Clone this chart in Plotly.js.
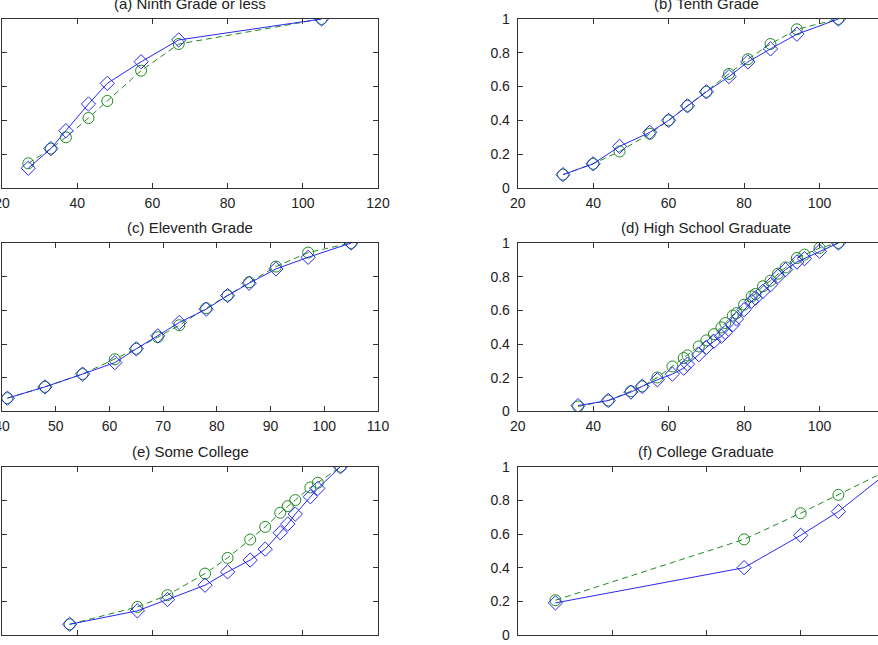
<!DOCTYPE html>
<html>
<head>
<meta charset="utf-8">
<script src="https://cdn.plot.ly/plotly-3.0.1.min.js"></script>
<style>
  html, body { margin: 0; padding: 0; width: 878px; height: 645px; overflow: hidden; background: #fff; }
  #fig { position: absolute; left: -60px; top: -20px; width: 1000px; height: 700px; }
</style>
</head>
<body>
<div id="fig"></div>
<script>
// Panel titles
const panelTitles = ['(a) Ninth Grade or less', '(b) Tenth Grade', '(c) Eleventh Grade',
                     '(d) High School Graduate', '(e) Some College', '(f) College Graduate'];

// (a) Ninth grade or less
const ninthX     = [27, 33, 37, 43, 48, 57, 67, 105];
const ninthBlue  = [0.117, 0.233, 0.339, 0.497, 0.619, 0.747, 0.876, 1.0];
const ninthGreen = [0.146, 0.233, 0.300, 0.414, 0.515, 0.694, 0.852, 1.0];

// (b) Tenth grade
const tenthX     = [32, 40, 47, 55, 60, 65, 70, 76, 81, 87, 94, 105];
const tenthBlue  = [0.079, 0.143, 0.246, 0.329, 0.400, 0.486, 0.569, 0.659, 0.746, 0.823, 0.910, 1.0];
const tenthGreen = [0.079, 0.143, 0.216, 0.321, 0.400, 0.486, 0.569, 0.675, 0.762, 0.852, 0.939, 1.0];

// (c) Eleventh grade
const eleventhX     = [41, 48, 55, 61, 65, 69, 73, 78, 82, 86, 91, 97, 105];
const eleventhBlue  = [0.079, 0.146, 0.222, 0.290, 0.372, 0.449, 0.528, 0.607, 0.688, 0.761, 0.846, 0.915, 1.0];
const eleventhGreen = [0.079, 0.146, 0.222, 0.310, 0.372, 0.441, 0.512, 0.613, 0.688, 0.767, 0.860, 0.943, 1.0];

// (d) High school graduate
const hsX     = [36, 44, 50, 53, 57, 61, 64, 65, 68, 70, 72, 74, 75, 77, 78, 80, 82, 83, 85, 87, 89, 91, 94, 96, 100, 105];
const hsBlue  = [0.035, 0.065, 0.115, 0.149, 0.188, 0.222, 0.257, 0.281, 0.337, 0.380, 0.416, 0.446, 0.469,
                 0.515, 0.549, 0.604, 0.654, 0.673, 0.713, 0.752, 0.802, 0.842, 0.887, 0.907, 0.951, 1.0];
const hsGreen = [0.030, 0.065, 0.120, 0.149, 0.202, 0.267, 0.317, 0.333, 0.386, 0.422, 0.459, 0.499, 0.525,
                 0.569, 0.584, 0.634, 0.683, 0.697, 0.743, 0.776, 0.818, 0.855, 0.911, 0.931, 0.970, 1.0];

// (e) Some college
const someX     = [69, 78, 82, 87, 90, 93, 95, 97, 98, 99, 101, 102, 105];
const someBlue  = [0.065, 0.145, 0.212, 0.297, 0.376, 0.446, 0.511, 0.608, 0.660, 0.719, 0.822, 0.871, 1.0];
const someGreen = [0.065, 0.168, 0.238, 0.366, 0.459, 0.568, 0.643, 0.727, 0.766, 0.802, 0.877, 0.905, 1.0];

// (f) College graduate
const collegeX     = [87, 97, 100, 102, 105];
const collegeBlue  = [0.192, 0.401, 0.593, 0.734, 1.0];
const collegeGreen = [0.208, 0.569, 0.724, 0.833, 1.0];

// x-axis ranges and tick steps per panel
const xRanges = [[20, 120], [20, 120], [40, 110], [20, 120], [60, 110], [85, 105]];
const xSteps  = [20, 20, 10, 20, 10, 5];

const panels = [
  [ninthX, ninthBlue, ninthGreen],
  [tenthX, tenthBlue, tenthGreen],
  [eleventhX, eleventhBlue, eleventhGreen],
  [hsX, hsBlue, hsGreen],
  [someX, someBlue, someGreen],
  [collegeX, collegeBlue, collegeGreen]
];

const BLUE = 'rgb(40,40,240)';
const GREEN = 'rgb(30,140,30)';
const AXIS = '#333333';
const FONT = 'Liberation Sans, Arial, sans-serif';

// Grid geometry (paper fractions)
const colDomains = [[0.062, 0.438], [0.5777, 0.955]];
const rowDomains = [[0.7029, 0.9443], [0.3836, 0.6243], [0.0639, 0.3047]];

const traces = [];
const layout = {
  width: 1000, height: 700,
  margin: {l: 0, r: 0, t: 0, b: 0},
  paper_bgcolor: '#fff', plot_bgcolor: '#fff',
  showlegend: false,
  font: {family: FONT, size: 14, color: '#222'},
  annotations: []
};

panels.forEach((p, i) => {
  const n = i + 1;
  const xa = 'x' + (n === 1 ? '' : n);
  const ya = 'y' + (n === 1 ? '' : n);
  const col = i % 2, row = Math.floor(i / 2);

  traces.push({
    x: p[0], y: p[2], xaxis: xa, yaxis: ya, type: 'scatter', mode: 'lines+markers',
    line: {color: GREEN, width: 1, dash: '6px,4px'},
    marker: {symbol: 'circle-open', size: 11, color: GREEN, line: {width: 1, color: GREEN}},
    hoverinfo: 'skip'
  });
  traces.push({
    x: p[0], y: p[1], xaxis: xa, yaxis: ya, type: 'scatter', mode: 'lines+markers',
    line: {color: BLUE, width: 1},
    marker: {symbol: 'diamond-open', size: 11, color: BLUE, line: {width: 1, color: BLUE}},
    hoverinfo: 'skip'
  });

  const axisCommon = {
    showline: true, linecolor: AXIS, linewidth: 1, mirror: 'ticks',
    ticks: 'inside', ticklen: 5, tickwidth: 1, tickcolor: AXIS,
    showgrid: false, zeroline: false,
    tickfont: {family: FONT, size: 14, color: '#222'}
  };
  layout['xaxis' + (n === 1 ? '' : n)] = Object.assign({}, axisCommon, {
    domain: colDomains[col], anchor: ya, range: xRanges[i],
    tick0: xRanges[i][0], dtick: xSteps[i], ticklabelstandoff: 2
  });
  layout['yaxis' + (n === 1 ? '' : n)] = Object.assign({}, axisCommon, {
    domain: rowDomains[row], anchor: xa, range: [0, 1], tick0: 0, dtick: 0.2,
    ticklabelstandoff: 4
  });

  layout.annotations.push({
    text: panelTitles[i], xref: 'paper', yref: 'paper',
    x: (colDomains[col][0] + colDomains[col][1]) / 2, y: rowDomains[row][1],
    xanchor: 'center', yanchor: 'bottom', yshift: 5, showarrow: false,
    font: {family: FONT, size: 15, color: '#222'}
  });
});

Plotly.newPlot('fig', traces, layout, {staticPlot: true, displayModeBar: false});
</script>
</body>
</html>
